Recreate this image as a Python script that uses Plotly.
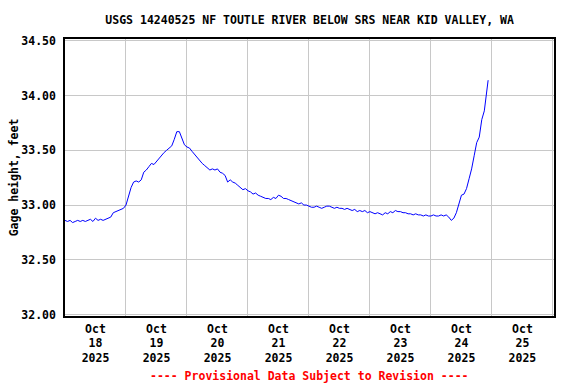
import pandas as pd
import plotly.graph_objects as go

# Gage height, feet — hourly readings starting 2025-10-18 00:00
start_time = "2025-10-18 00:00"
oct18 = [32.86, 32.85, 32.86, 32.84, 32.85, 32.86, 32.85, 32.86, 32.85, 32.86, 32.87, 32.85,
         32.88, 32.86, 32.87, 32.86, 32.87, 32.88, 32.89, 32.93, 32.94, 32.95, 32.96, 32.97]
oct19 = [33.00, 33.08, 33.16, 33.21, 33.22, 33.21, 33.23, 33.30, 33.32, 33.35, 33.38, 33.37,
         33.40, 33.43, 33.45, 33.48, 33.50, 33.52, 33.54, 33.60, 33.67, 33.67, 33.61, 33.55]
oct20 = [33.53, 33.52, 33.49, 33.46, 33.43, 33.40, 33.38, 33.36, 33.34, 33.32, 33.33, 33.32,
         33.33, 33.30, 33.29, 33.27, 33.21, 33.23, 33.21, 33.20, 33.18, 33.16, 33.14, 33.15]
oct21 = [33.13, 33.12, 33.10, 33.11, 33.09, 33.08, 33.07, 33.06, 33.06, 33.05, 33.07, 33.06,
         33.09, 33.08, 33.06, 33.06, 33.05, 33.04, 33.03, 33.02, 33.01, 33.02, 33.00, 33.00]
oct22 = [32.99, 32.98, 32.98, 32.99, 32.98, 32.97, 32.98, 32.99, 32.99, 32.98, 32.97, 32.98,
         32.97, 32.97, 32.96, 32.97, 32.96, 32.95, 32.96, 32.94, 32.95, 32.94, 32.95, 32.93]
oct23 = [32.94, 32.93, 32.92, 32.93, 32.92, 32.91, 32.93, 32.92, 32.94, 32.93, 32.95, 32.94,
         32.94, 32.93, 32.93, 32.92, 32.92, 32.91, 32.92, 32.91, 32.91, 32.90, 32.91, 32.90]
oct24 = [32.90, 32.91, 32.90, 32.90, 32.91, 32.90, 32.91, 32.89, 32.86, 32.88, 32.93, 33.02,
         33.09, 33.10, 33.15, 33.24, 33.33, 33.45, 33.57, 33.62, 33.78, 33.86, 34.02]
last_time = "2025-10-24 22:30"
last_value = 34.14

day_labels = ["Oct<br>18<br>2025", "Oct<br>19<br>2025", "Oct<br>20<br>2025", "Oct<br>21<br>2025",
              "Oct<br>22<br>2025", "Oct<br>23<br>2025", "Oct<br>24<br>2025", "Oct<br>25<br>2025"]
y_ticks = [32.0, 32.5, 33.0, 33.5, 34.0, 34.5]

stage = oct18 + oct19 + oct20 + oct21 + oct22 + oct23 + oct24
times = list(pd.date_range(start_time, periods=len(stage), freq="h")) + [pd.Timestamp(last_time)]
stage = stage + [last_value]

noon_ticks = list(pd.date_range("2025-10-18 12:00", periods=len(day_labels), freq="D"))
x_range = [pd.Timestamp("2025-10-18 00:00"), pd.Timestamp("2025-10-26 00:25")]

FONT = "DejaVu Sans Mono"

fig = go.Figure()
fig.add_trace(go.Scatter(x=times, y=stage, mode="lines",
                         line=dict(color="#0000FF", width=1),
                         showlegend=False, hoverinfo="x+y"))
fig.add_trace(go.Scatter(x=times, y=stage, mode="lines", xaxis="x2",
                         line=dict(color="rgba(0,0,0,0)", width=0),
                         showlegend=False, hoverinfo="skip"))

fig.update_layout(
    width=576, height=384,
    margin=dict(l=65, r=22, t=39, b=68, autoexpand=False),
    paper_bgcolor="white", plot_bgcolor="white",
    font=dict(family=FONT, size=11.5, color="black", weight="bold"),
    title=dict(text="USGS 14240525 NF TOUTLE RIVER BELOW SRS NEAR KID VALLEY, WA",
               x=0.5375, xanchor="center", y=0.948, yanchor="middle",
               font=dict(family=FONT, size=11.5, color="black", weight="bold")),
    xaxis=dict(type="date", range=x_range, dtick=86400000, tick0="2025-10-18",
               showticklabels=False, ticks="", showgrid=True, gridcolor="#c8c8c8",
               gridwidth=1, showline=True, linecolor="black", linewidth=1.5,
               mirror=True, zeroline=False, automargin=False),
    xaxis2=dict(type="date", range=x_range, overlaying="x", side="bottom",
                tickmode="array", tickvals=noon_ticks, ticktext=day_labels,
                ticks="", ticklabelstandoff=4, showgrid=False, showline=False,
                zeroline=False, automargin=False,
                tickfont=dict(family=FONT, size=11.5, color="black", weight="bold")),
    yaxis=dict(range=[31.987, 34.516], tickmode="array", tickvals=y_ticks,
               tickformat=".2f", ticks="", ticklabelstandoff=5, automargin=False,
               showgrid=True, gridcolor="#c8c8c8", gridwidth=1,
               showline=True, linecolor="black", linewidth=1.5, mirror=True,
               zeroline=False,
               title=dict(text="Gage height, feet", standoff=0,
                          font=dict(family=FONT, size=11.5, color="black", weight="bold"))),
    annotations=[dict(text="---- Provisional Data Subject to Revision ----",
                      xref="paper", yref="paper", x=0.5, y=-0.215,
                      xanchor="center", yanchor="middle", showarrow=False,
                      font=dict(family=FONT, size=11.5, color="#FF0000", weight="bold"))],
)

fig.write_html("out.html", config={"displayModeBar": False},
               post_script="document.body.style.margin='0';document.body.style.overflow='hidden';")
